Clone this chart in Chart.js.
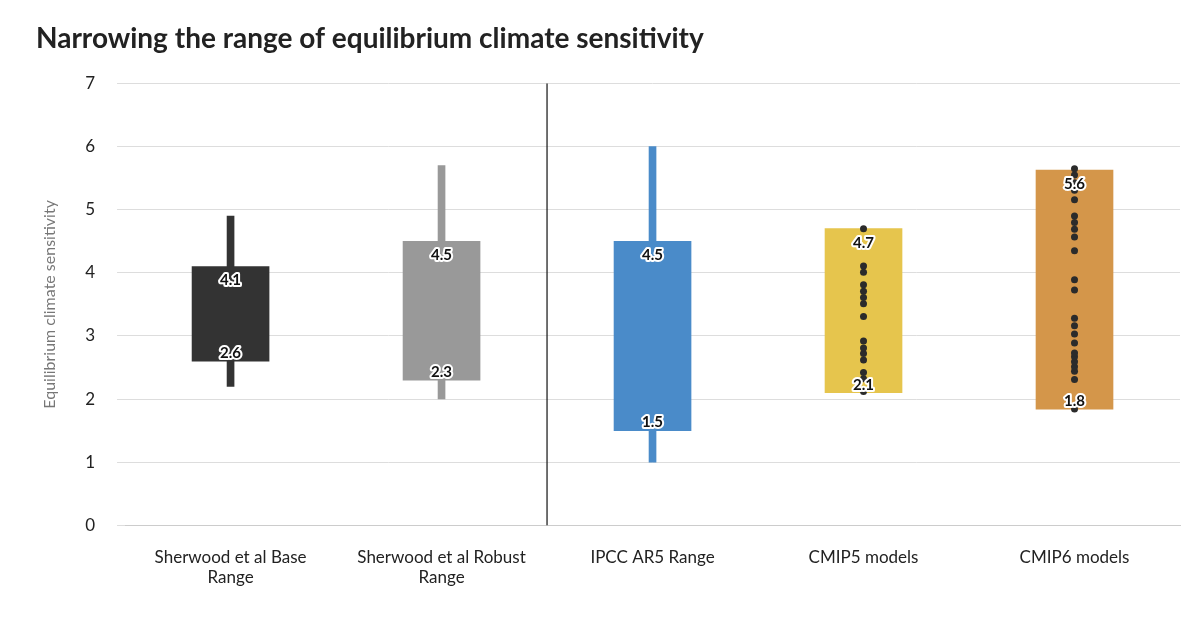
<!DOCTYPE html><html><head><meta charset="utf-8">
<script src="https://cdn.jsdelivr.net/npm/chart.js@4"></script>
<style>body{margin:0;background:#fff}#w{width:1200px;height:624px}</style></head><body><div id="w"><canvas id="c"></canvas></div>
<script>
const categories=[["Sherwood et al Base","Range"],["Sherwood et al Robust","Range"],"IPCC AR5 Range","CMIP5 models","CMIP6 models"];
const boxLow=[2.6,2.3,1.5,2.1,1.84];
const boxHigh=[4.1,4.5,4.5,4.7,5.63];
const whiskLow=[2.2,2.0,1.0,null,null];
const whiskHigh=[4.9,5.7,6.0,null,null];
const boxLabelsLow=["2.6","2.3","1.5","2.1","1.8"];
const boxLabelsHigh=["4.1","4.5","4.5","4.7","5.6"];
const cmip5=[4.70,4.11,4.01,3.81,3.71,3.61,3.51,3.31,2.92,2.81,2.72,2.62,2.42,2.32,2.12];
const cmip6=[5.65,5.55,5.43,5.31,5.16,4.90,4.80,4.69,4.57,4.35,3.89,3.73,3.28,3.16,3.03,2.89,2.73,2.67,2.59,2.51,2.44,2.31,1.84];
const colors=["#333333","#999999","#4a8bc9","#e6c54d","#d4964a"];
const yTicks=[0,1,2,3,4,5,6,7];
const dotSets=[];
for(let k=0;k<Math.max(cmip5.length,cmip6.length);k++){
 dotSets.push({type:'line',showLine:false,data:[null,null,null,cmip5[k]??null,cmip6[k]??null],pointRadius:3.5,pointBackgroundColor:'#2b2b2b',pointBorderWidth:0,order:0});
}
const lbl={id:'lbl',afterDatasetsDraw(ch){const c=ch.ctx,x=ch.scales.x,y=ch.scales.y;
 c.save();c.font="bold 15px Lato";c.textAlign="center";c.lineJoin="round";
 for(let i=0;i<5;i++){const px=x.getPixelForValue(i);
  [[boxLabelsHigh[i],y.getPixelForValue(boxHigh[i])+14],[boxLabelsLow[i],y.getPixelForValue(boxLow[i])-8]].forEach(([t,py])=>{
   c.textBaseline="middle";c.lineWidth=4;c.strokeStyle="#fff";c.strokeText(t,px,py);c.fillStyle="#111";c.fillText(t,px,py);});}
 const dx=(x.getPixelForValue(1)+x.getPixelForValue(2))/2;
 c.strokeStyle="#111";c.lineWidth=1.2;c.beginPath();c.moveTo(dx,y.getPixelForValue(7));c.lineTo(dx,y.getPixelForValue(0));c.stroke();
 c.restore();}};
new Chart(document.getElementById('c'),{
 data:{labels:categories,datasets:[
  ...dotSets,
  {type:'bar',data:boxLow.map((v,i)=>[v,boxHigh[i]]),backgroundColor:colors,barThickness:77,grouped:false,order:1},
  {type:'bar',data:whiskLow.map((v,i)=>v==null?null:[v,whiskHigh[i]]),backgroundColor:colors,barThickness:7,grouped:false,order:2}
 ]},
 plugins:[lbl],
 options:{responsive:true,maintainAspectRatio:false,animation:false,
  layout:{padding:{left:36,right:20,top:0,bottom:22}},
  plugins:{legend:{display:false},tooltip:{enabled:false},
   title:{display:true,text:"Narrowing the range of equilibrium climate sensitivity",align:'start',color:'#222',font:{family:'Lato',size:28,weight:'bold'},padding:{top:22,bottom:28}}},
  scales:{
   x:{type:'category',offset:true,grid:{display:false},border:{color:'#ccc'},ticks:{color:'#222',padding:14,font:{family:'Lato',size:17}}},
   y:{min:0,max:7,afterBuildTicks:a=>{a.ticks=yTicks.map(v=>({value:v}))},grid:{color:'#ddd'},border:{display:false},
    ticks:{color:'#222',padding:22,font:{family:'Lato',size:17}},
    title:{display:true,text:'Equilibrium climate sensitivity',color:'#777',font:{family:'Lato',size:16}}}}}});
</script></body></html>
